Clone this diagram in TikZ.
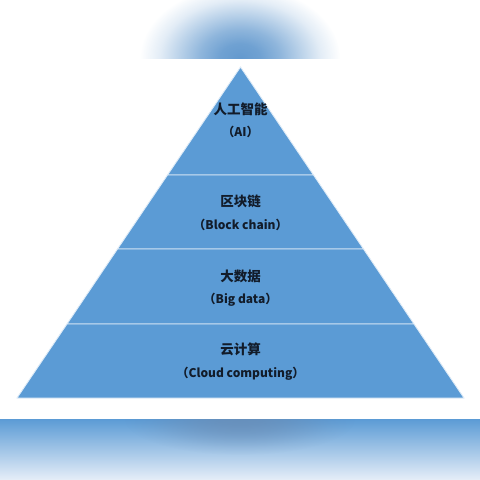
\documentclass[tikz,border=0pt]{standalone}
\usepackage{fontspec}
\usetikzlibrary{fadings}
\newfontfamily\cjk{Noto Sans CJK SC}
\definecolor{tierblue}{HTML}{5B9BD5}
\definecolor{tierink}{HTML}{121C2A}
\definecolor{glowblue}{HTML}{6399CE}
\definecolor{glowgrey}{HTML}{6A8CB4}
\definecolor{bandlight}{HTML}{E6EEF8}
\pgfdeclareradialshading{softglow}{\pgfpoint{0bp}{0bp}}{color(0bp)=(transparent!0); color(5bp)=(transparent!8); color(10bp)=(transparent!28); color(15bp)=(transparent!55); color(20bp)=(transparent!82); color(25bp)=(transparent!100); color(50bp)=(transparent!100)}
\pgfdeclarefading{glow}{\pgfuseshading{softglow}}
% chinese name over its english name in brackets
\newcommand\tiername[2]{#1\\{\fontsize{12}{22.5}\selectfont （#2）}}

\begin{document}
\begin{tikzpicture}[x=1pt,y=-1pt]
\tikzstyle{tier}=[fill=tierblue, draw=white!80!tierblue, line width=0.9pt]
\tikzstyle{tiertext}=[font={\cjk\bfseries\fontsize{13.5}{22.5}\selectfont}, text=tierink, align=center, inner sep=0pt]
\useasboundingbox (0,0) rectangle (480,480);
% glow above the apex
\begin{scope}
\clip (0,0) rectangle (480,58);
\fill [glowblue, path fading=glow] (240,58) ellipse (100 and 72);
\end{scope}
% band below the base
\shade [top color=tierblue, middle color=tierblue!60!bandlight, bottom color=bandlight] (0,419) rectangle (480,480);
\begin{scope}
\clip (0,419) rectangle (480,480);
\fill [glowgrey, path fading=glow, fill opacity=0.75] (240,419) ellipse (115 and 36);
\end{scope}
% the four tiers
\draw [tier] (240.5,67) -- (313.5,175) -- (167.5,175) -- cycle;
\draw [tier] (167.5,175) -- (313.5,175) -- (363.5,249) -- (117.5,249) -- cycle;
\draw [tier] (117.5,249) -- (363.5,249) -- (414,324) -- (67,324) -- cycle;
\draw [tier] (67,324) -- (414,324) -- (464,398) -- (17,398) -- cycle;
\node [tiertext] (ai) at (240.5,120.5) {\tiername{人工智能}{AI}};
\node [tiertext] (chain) at (240.5,213) {\tiername{区块链}{Block chain}};
\node [tiertext] (data) at (240.5,288) {\tiername{大数据}{Big data}};
\node [tiertext] (cloud) at (240.5,361.5) {\tiername{云计算}{Cloud computing}};
\end{tikzpicture}
\end{document}
